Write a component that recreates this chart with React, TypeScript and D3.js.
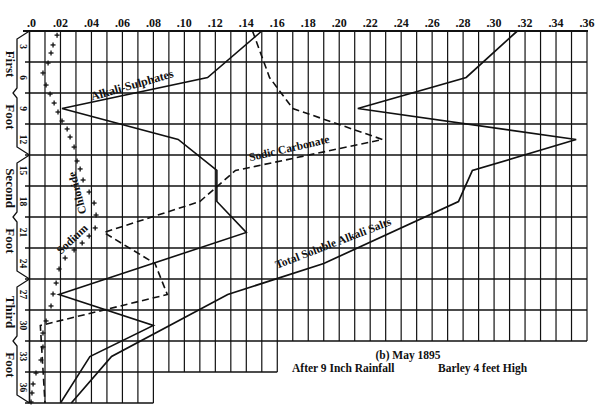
import React from 'react';
import * as d3 from 'd3';

// X axis (alkali fraction) ticks
const xTickValues = [0, 0.02, 0.04, 0.06, 0.08, 0.1, 0.12, 0.14, 0.16, 0.18, 0.2, 0.22, 0.24, 0.26, 0.28, 0.3, 0.32, 0.34, 0.36];
const xTickLabels = ['.0', '.02', '.04', '.06', '.08', '.10', '.12', '.14', '.16', '.18', '.20', '.22', '.24', '.26', '.28', '.30', '.32', '.34', '.36'];
// Depth bands (inches)
const depthLabels = [3, 6, 9, 12, 15, 18, 21, 24, 27, 30, 33, 36];
const footNames = ['First', 'Second', 'Third'];

// Total Soluble Alkali Salts
const totalDepth = [0, 4.5, 7.5, 10.5, 13.5, 16.5, 22.5, 25.5, 31.5, 36];
const totalValue = [0.315, 0.282, 0.212, 0.353, 0.286, 0.277, 0.19, 0.128, 0.053, 0.027];

// Alkali Sulphates
const sulphDepth = [0, 4.5, 7.5, 10.5, 13.5, 16.5, 19.5, 25.5, 28.5, 31.5, 36];
const sulphValue = [0.15, 0.115, 0.021, 0.096, 0.121, 0.121, 0.14, 0.019, 0.08, 0.039, 0.02];

// Sodic Carbonate
const sodicDepth = [0, 4.5, 7.5, 10.5, 13.5, 16.5, 19.5, 22.5, 25.5, 28.5, 36];
const sodicValue = [0.144, 0.155, 0.17, 0.228, 0.133, 0.11, 0.048, 0.081, 0.089, 0.007, 0.01];

// Sodium Chloride (plus markers)
const chlorideDepth = [0.4, 1.35, 2.13, 3.1, 4.06, 5.23, 6.1, 6.97, 7.84, 8.71, 9.48, 10.26, 11.23, 12.58, 13.35, 14.42, 15.58, 16.65, 17.81, 19.06, 19.84, 20.52, 21.19, 21.97, 23.03, 24.39, 25.45, 26.61, 28.06, 29.23, 30.58, 31.84, 33.1, 34.16, 35.03, 35.9];
const chlorideValue = [0.0178, 0.0152, 0.0139, 0.012, 0.0087, 0.0107, 0.0133, 0.0159, 0.0184, 0.021, 0.0243, 0.0262, 0.0288, 0.0307, 0.0327, 0.0346, 0.0385, 0.0417, 0.043, 0.0424, 0.0385, 0.034, 0.0288, 0.023, 0.0191, 0.0172, 0.0152, 0.0139, 0.0107, 0.0087, 0.0087, 0.0074, 0.0042, 0.0023, 0.0016, 0.001];

const FONT = '"Liberation Serif", "DejaVu Serif", serif';

export default function App() {
  const x = d3.scaleLinear().domain([0, 0.36]).range([29.5, 587]);
  const y = d3.scaleLinear().domain([0, 36]).range([31, 403]);

  const line = d3.line<[number, number]>().x((d) => x(d[1])).y((d) => y(d[0]));
  const zip = (a: number[], b: number[]) => a.map((d, i) => [d, b[i]] as [number, number]);

  // grid extent: bottom depth reached by each vertical line
  const vBottom = (v: number) => (v <= 0.08 + 1e-9 ? 36 : v <= 0.16 + 1e-9 ? 33 : 30);
  const hRight = (dep: number) => (dep <= 30 ? 0.36 : dep <= 33 ? 0.16 : 0.08);

  const vLines = d3.range(0, 37).map((i) => i / 100);
  const hLines = d3.range(1, 13).map((i) => i * 3);

  const ink = '#111';

  return (
    <svg width={600} height={420} style={{ position: 'absolute', left: 0, top: 0, background: '#fff' }} fontFamily={FONT}>
      <rect x={0} y={0} width={600} height={420} fill="#fff" />
      {/* vertical grid */}
      {vLines.map((v, i) => (
        <line key={'v' + i} x1={x(v)} x2={x(v)} y1={y(0)} y2={y(vBottom(v))} stroke={ink} strokeWidth={i === 0 ? 1.6 : 1.2} />
      ))}
      {/* horizontal grid */}
      {hLines.map((dep, i) => (
        <line key={'h' + i} x1={25} x2={x(hRight(dep))} y1={y(dep)} y2={y(dep)} stroke={ink} strokeWidth={1.3} />
      ))}
      {/* top border */}
      <line x1={23} x2={x(0.36) + 1} y1={y(0)} y2={y(0)} stroke={ink} strokeWidth={2.2} />

      {/* left braces */}
      {footNames.map((name, f) => {
        const y0 = y(f * 12);
        const y1 = y(f * 12 + 12);
        const mid = (y0 + y1) / 2;
        const p = `M ${x(0)},${y0} L 17,${y0 + 8} L 17,${mid - 5} L 13,${mid} L 17,${mid + 5} L 17,${y1 - 8} L ${x(0)},${y1}`;
        return (
          <g key={'f' + f}>
            <path d={p} fill="none" stroke={ink} strokeWidth={1.3} />
            <text transform={`translate(10,${mid - 29}) rotate(90)`} textAnchor="middle" dominantBaseline="central" fontSize={13} fontWeight="bold" fill={ink}>{name}</text>
            <text transform={`translate(10,${mid + 24}) rotate(90)`} textAnchor="middle" dominantBaseline="central" fontSize={13} fontWeight="bold" fill={ink}>Foot</text>
          </g>
        );
      })}
      {/* depth labels */}
      {depthLabels.map((dl, i) => (
        <text key={'d' + i} transform={`translate(22.5,${y(dl - 1.5)}) rotate(90)`} textAnchor="middle" dominantBaseline="central" fontSize={9.5} fontWeight="bold" fill={ink}>{dl}</text>
      ))}
      {/* x tick labels */}
      {xTickValues.map((v, i) => (
        <text key={'x' + i} x={x(v) + (i === 0 ? 2 : 0)} y={27} textAnchor="middle" fontSize={12} fontWeight="bold" fill={ink}>{xTickLabels[i]}</text>
      ))}

      {/* series */}
      <path d={line(zip(totalDepth, totalValue)) || ''} fill="none" stroke={ink} strokeWidth={1.7} strokeLinejoin="miter" />
      <path d={line(zip(sulphDepth, sulphValue)) || ''} fill="none" stroke={ink} strokeWidth={1.6} strokeLinejoin="miter" />
      <path d={line(zip(sodicDepth, sodicValue)) || ''} fill="none" stroke={ink} strokeWidth={1.6} strokeDasharray="7,4" />
      {zip(chlorideDepth, chlorideValue).map((d, i) => {
        const cx = x(d[1]);
        const cy = y(d[0]);
        return (
          <g key={'c' + i} stroke={ink} strokeWidth={1.3}>
            <line x1={cx - 2.5} x2={cx + 2.5} y1={cy} y2={cy} />
            <line x1={cx} x2={cx} y1={cy - 2.5} y2={cy + 2.5} />
          </g>
        );
      })}

      {/* series labels */}
      <rect x={0} y={0} width={0} height={0} />
      <text transform="translate(132,85) rotate(-16)" textAnchor="middle" dominantBaseline="central" fontSize={12} fontWeight="bold" fill={ink}>Alkali-Sulphates</text>
      <text transform="translate(289,148) rotate(-13)" textAnchor="middle" dominantBaseline="central" fontSize={11.5} fontWeight="bold" fill={ink}>Sodic Carbonate</text>
      <text transform="translate(333,243) rotate(-21)" textAnchor="middle" dominantBaseline="central" fontSize={11.5} fontWeight="bold" fill={ink}>Total Soluble Alkali Salts</text>
      <text transform="translate(72,239) rotate(-43)" textAnchor="middle" dominantBaseline="central" fontSize={11.5} fontWeight="bold" fill={ink}>Sodium</text>
      <text transform="translate(77,193) rotate(-105)" textAnchor="middle" dominantBaseline="central" fontSize={11.5} fontWeight="bold" fill={ink}>Chloride</text>

      {/* caption */}
      <text x={408} y={359} textAnchor="middle" fontSize={11.5} fontWeight="bold" fill={ink}>(b) May 1895</text>
      <text x={292} y={372} fontSize={11.5} fontWeight="bold" fill={ink}>After 9 Inch Rainfall</text>
      <text x={438} y={372} fontSize={11.5} fontWeight="bold" fill={ink}>Barley 4 feet High</text>
    </svg>
  );
}
